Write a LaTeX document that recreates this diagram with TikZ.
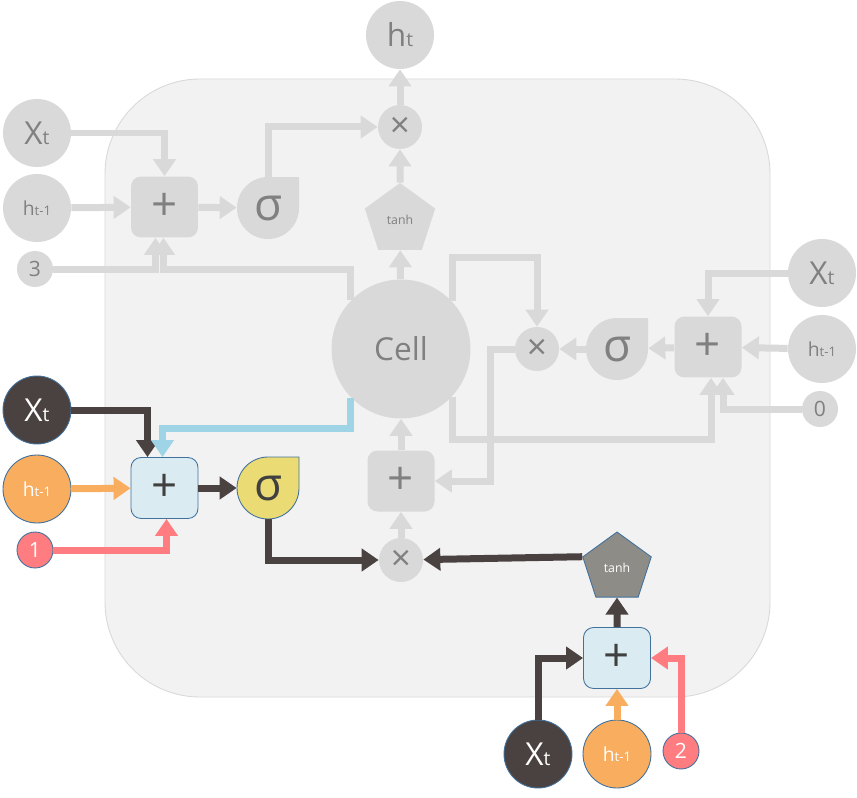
\documentclass[tikz,border=0pt]{standalone}
\usepackage{fontspec}
\setmainfont{Open Sans}
\usetikzlibrary{calc,arrows.meta,shapes.geometric}
\definecolor{bgcol}{HTML}{F2F2F2}
\definecolor{gfill}{HTML}{D9D9D9}
\definecolor{gtext}{HTML}{808080}
\definecolor{ink}{HTML}{404040}
\definecolor{dark}{HTML}{4A4240}
\definecolor{orng}{HTML}{F8AD5F}
\definecolor{rose}{HTML}{FF7C80}
\definecolor{pale}{HTML}{DAEBF2}
\definecolor{rim}{HTML}{41719C}
\definecolor{sky}{HTML}{9ED4E5}
\definecolor{mustard}{HTML}{EBDB74}
\definecolor{slate}{HTML}{8D8C87}
\def\teardrop[#1](#2)(#3){\fill[#1] ($(#2)+(#3,0)$) -- ($(#2)+(#3,-#3)$) -- ($(#2)+(0,-#3)$) arc[start angle=270, end angle=0, radius=#3] -- cycle;}
\def\Xsym{{\fontsize{18}{18}\selectfont X}{\fontsize{11}{11}\selectfont t}}
\def\hprev{{\fontsize{11}{11}\selectfont h}{\fontsize{7.5}{7.5}\selectfont t-1}}
\def\hnow{{\fontsize{18}{18}\selectfont h}{\fontsize{11}{11}\selectfont t}}
\tikzset{
	gdot/.style={circle, fill=gfill, text=gtext, inner sep=0pt, minimum size=1.36cm},
	cdot/.style={circle, draw=rim, line width=0.5pt, text=white, inner sep=0pt, minimum size=1.36cm},
	num/.style={minimum size=0.72cm, font=\fontsize{12}{12}\selectfont},
	times/.style={minimum size=0.88cm, font=\fontsize{20}{20}\selectfont},
	gbox/.style={rectangle, rounded corners=0.2cm, fill=gfill, text=gtext, minimum width=1.34cm, minimum height=1.22cm, inner sep=0pt, font=\fontsize{26}{26}\selectfont},
	pbox/.style={gbox, fill=pale, draw=rim, line width=0.5pt, text=ink},
	sig/.style={circle, minimum size=1.24cm, inner sep=0pt, text=gtext, font=\fontsize{26}{26}\selectfont},
	gpent/.style={regular polygon, regular polygon sides=5, inner sep=0pt, minimum size=1.48cm, font=\fontsize{7}{7}\selectfont},
	flow/.style={line width=0.14cm, -{Triangle[length=0.34cm, width=0.44cm]}}
}
\begin{document}
\begin{tikzpicture}[x=0.02cm, y=-0.02cm]
	%%%%% FRAME %%%%%
	\useasboundingbox (0,0) rectangle (857,797);
	\fill[white] (0,0) rectangle (857,797);
	\filldraw[fill=bgcol, draw=gfill, line width=0.5pt, rounded corners=1.9cm] (105,79) rectangle (770,697);
	
	%%%%% GRAY GATES %%%%%
	\teardrop[fill=gfill](268,208)(31)
	\teardrop[fill=gfill](617,349)(31)
	
	\node[gdot] (htop) at (400,35) {\hnow};
	\node[gdot, times] (mtop) at (400,127) {×};
	\node[gpent, fill=gfill, text=gtext] (tanhg) at (400,220) {tanh};
	\node[gdot, minimum size=2.78cm, font=\fontsize{18}{18}\selectfont] (cell) at (401,349) {Cell};
	
	\node[gdot] (xa) at (37,133) {\Xsym};
	\node[gdot] (ha) at (37,208) {\hprev};
	\node[gdot, num] (na) at (35,269) {3};
	\node[gbox] (pa) at (164.5,207) {+};
	\node[sig] (sa) at (268,208) {σ};
	
	\node[gdot] (xb) at (822,273) {\Xsym};
	\node[gdot] (hb) at (822,349) {\hprev};
	\node[gdot, num] (nb) at (820,409) {0};
	\node[gbox] (pb) at (708,347) {+};
	\node[sig] (sb) at (617,349) {σ};
	\node[gdot, times] (mb) at (537,349) {×};
	
	\node[gbox] (pc) at (401,481) {+};
	\node[gdot, times] (mc) at (401,560) {×};
	
	%%%%% COLOURED GATES %%%%%
	\teardrop[fill=mustard, draw=rim, line width=0.5pt](268,488)(31)
	
	\node[cdot, fill=dark] (xc) at (37,410) {\Xsym};
	\node[cdot, fill=orng] (hc) at (37,489) {\hprev};
	\node[cdot, fill=rose, num] (nc) at (35,550) {1};
	\node[pbox] (pd) at (164.5,488) {+};
	\node[sig, text=ink] (sd) at (268,488) {σ};
	
	\node[gpent, fill=slate, draw=rim, line width=0.5pt, text=white, minimum size=1.44cm] (td) at (617,568) {tanh};
	\node[pbox] (pe) at (617,658) {+};
	\node[cdot, fill=dark] (xd) at (538,754) {\Xsym};
	\node[cdot, fill=orng] (hd) at (617,754) {\hprev};
	\node[cdot, fill=rose, num] (ne) at (681,751) {2};
	
	%%%%% GRAY FLOW %%%%%
	\draw[flow, gfill] (xa) -| (pa);
	\draw[flow, gfill] (ha) -- (pa);
	\draw[flow, gfill] (na) -| ($(pa.south)+(-9,0)$);
	\draw[flow, gfill] (cell.136) |- ($(pa.south)+(-1,32)$) -- ($(pa.south)+(-1,0)$);
	\draw[flow, gfill] (pa) -- (sa);
	\draw[flow, gfill] (sa.north) |- (mtop);
	\draw[flow, gfill] (tanhg) -- (mtop);
	\draw[flow, gfill] (mtop) -- (htop);
	\draw[flow, gfill] (cell) -- (tanhg);
	
	\draw[flow, gfill] (xb) -| (pb);
	\draw[flow, gfill] (hb) -- (pb);
	\draw[flow, gfill] (nb) -| ($(pb.south)+(15,0)$);
	\draw[flow, gfill] (cell.-43) |- ($(pb.south)+(3,62)$) -- ($(pb.south)+(3,0)$);
	\draw[flow, gfill] (pb) -- (sb);
	\draw[flow, gfill] (sb) -- (mb);
	\draw[flow, gfill] (cell.43) |- ($(mb)+(0,-92)$) -- (mb);
	\draw[flow, gfill] (mb) -- ($(mb)+(-47,0)$) |- (pc);
	\draw[flow, gfill] (pc) -- (cell);
	\draw[flow, gfill] (mc) -- (pc);
	
	%%%%% COLOURED FLOW %%%%%
	\draw[flow, dark] (xc) -| ($(pd.north)+(-17,0)$);
	\draw[flow, sky] (cell.-136) |- ($(pd.north)+(-2,-29)$) -- ($(pd.north)+(-2,0)$);
	\draw[flow, orng] (hc) -- (pd);
	\draw[flow, rose] (nc) -| ($(pd.south)+(2,0)$);
	\draw[flow, dark] (pd) -- (sd);
	\draw[flow, dark] (sd.south) |- (mc);
	\draw[flow, dark] (td.corner 2) -- (mc);
	\draw[flow, dark] (pe) -- (td);
	\draw[flow, dark] (xd) |- (pe);
	\draw[flow, orng] (hd) -- (pe);
	\draw[flow, rose] (ne) |- (pe);
\end{tikzpicture}
\end{document}
